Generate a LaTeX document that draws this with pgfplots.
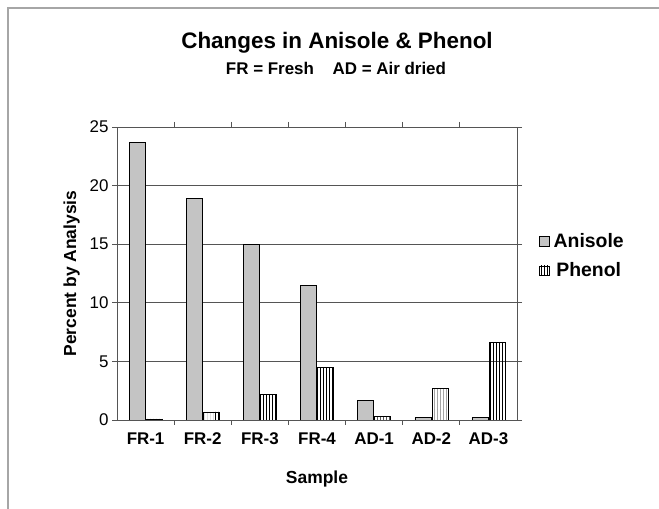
\documentclass[border=0pt]{standalone}
\usepackage{pgfplots}
\pgfplotsset{compat=1.18}
\usepackage{fontspec}
\setmainfont{Liberation Sans}
\usetikzlibrary{patterns}
\definecolor{anis}{HTML}{C4C4C4}
\definecolor{gridc}{HTML}{555555}
\begin{document}
\begin{tikzpicture}[x=1bp,y=1bp]
\useasboundingbox (0,0) rectangle (659,509);
\draw[gray!70,line width=1.5bp] (8,-20) -- (8,501) -- (680,501);
\node[font=\bfseries\fontsize{22.5}{26}\selectfont] at (337,466) {Changes in Anisole \& Phenol};
\node[font=\bfseries\fontsize{17}{20}\selectfont] at (336,441) {FR = Fresh\hspace{1.1em}AD = Air dried};
\begin{axis}[
  at={(117bp,89bp)}, anchor=south west,
  scale only axis, width=400bp, height=293bp,
  ybar=1bp, bar width=16bp,
  xmin=-0.5, xmax=6.5, ymin=0, ymax=25,
  xtick={0,...,6},
  xticklabels={FR-1,FR-2,FR-3,FR-4,AD-1,AD-2,AD-3},
  major x tick style={draw=none},
  minor xtick={0.5,1.5,...,5.5},
  minor tick length=5bp,
  ytick={0,5,...,25},
  tick align=outside, major tick length=5bp,
  tick style={gridc, line width=0.8bp},
  ymajorgrids, grid style={gridc, line width=0.8bp},
  axis line style={gridc, line width=0.8bp},
  /pgf/number format/assume math mode=true,
  xticklabel style={font=\bfseries\fontsize{17}{20}\selectfont, yshift=-4bp},
  yticklabel style={font=\fontsize{17}{20}\selectfont},
  xlabel={Sample}, ylabel={Percent by Analysis},
  xlabel style={font=\bfseries\fontsize{17.5}{20}\selectfont, yshift=-19bp},
  ylabel style={font=\bfseries\fontsize{17.5}{20}\selectfont, yshift=3bp},
  legend style={at={(1.05,0.56)}, anchor=west, draw=none, fill=none,
    font=\bfseries\fontsize{19.5}{23}\selectfont, row sep=10bp, inner xsep=2bp},
  legend image code/.code={\draw[#1,draw=black,line width=0.5bp] (0cm,-0.17cm) rectangle (0.34cm,0.17cm);
    \path (0.42cm,0cm);},
]
\addplot[fill=anis, draw=black, line width=0.5bp] coordinates {(0,23.7) (1,18.9) (2,15.0) (3,11.5) (4,1.7) (5,0.2) (6,0.2)};
\addplot[pattern=vertical lines, draw=black, line width=0.5bp] coordinates {(0,0.1) (1,0.7) (2,2.2) (3,4.5) (4,0.3) (5,2.7) (6,6.6)};
\legend{Anisole,Phenol}
\end{axis}
\end{tikzpicture}
\end{document}
